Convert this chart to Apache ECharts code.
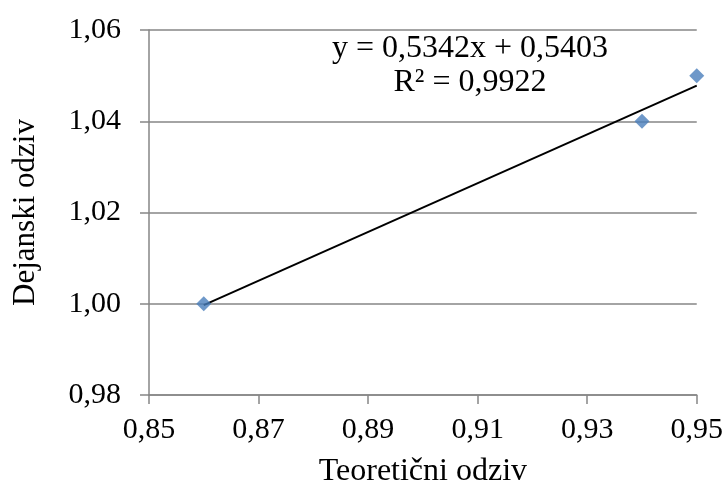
<!DOCTYPE html>
<html><head><meta charset="utf-8">
<script src="https://cdn.jsdelivr.net/npm/echarts@6/dist/echarts.min.js"></script>
<style>html,body{margin:0;padding:0;background:#fff}#c{width:726px;height:493px}</style>
</head><body><div id="c"></div>
<script>
const pointsX = [0.86, 0.94, 0.95];
const pointsY = [1.00, 1.04, 1.05];
const trendX = [0.86, 0.95];
const trendY = [0.9997, 1.0478];
const equationText = 'y = 0,5342x + 0,5403';
const r2Text = 'R² = 0,9922';
const xTitle = 'Teoretični odziv';
const yTitle = 'Dejanski odziv';

const fmt = (v, d) => v.toFixed(d).replace('.', ',');
const font = '"Liberation Serif", "Times New Roman", serif';
const chart = echarts.init(document.getElementById('c'));
chart.setOption({
  animation: false,
  backgroundColor: '#fff',
  grid: { left: 149, right: 29, top: 30, bottom: 93 },
  xAxis: {
    type: 'value', min: 0.85, max: 0.95, interval: 0.02,
    name: xTitle, nameLocation: 'middle', nameGap: 61,
    nameTextStyle: { fontFamily: font, fontSize: 32, color: '#000' },
    axisLine: { show: true, lineStyle: { color: '#868686', width: 1.5 } },
    axisTick: { show: true, length: 9, lineStyle: { color: '#868686', width: 1.5 } },
    axisLabel: { fontFamily: font, fontSize: 30, color: '#000', margin: 20, formatter: v => fmt(v, 2) },
    splitLine: { show: false }
  },
  yAxis: {
    type: 'value', min: 0.98, max: 1.06, interval: 0.02,
    name: yTitle, nameLocation: 'middle', nameGap: 108,
    nameTextStyle: { fontFamily: font, fontSize: 31, color: '#000' },
    axisLine: { show: true, lineStyle: { color: '#868686', width: 1.5 } },
    axisTick: { show: true, length: 9, lineStyle: { color: '#868686', width: 1.5 } },
    axisLabel: { fontFamily: font, fontSize: 30, color: '#000', margin: 28, formatter: v => fmt(v, 2) },
    splitLine: { show: true, lineStyle: { color: '#868686', width: 1.5 } }
  },
  series: [
    {
      type: 'line', data: trendX.map((x, i) => [x, trendY[i]]),
      showSymbol: false, symbol: 'none',
      lineStyle: { color: '#000', width: 2 }, z: 2
    },
    {
      type: 'scatter', data: pointsX.map((x, i) => [x, pointsY[i]]),
      symbol: 'diamond', symbolSize: [15, 15],
      itemStyle: { color: '#4a7ebb' }, z: 3
    }
  ],
  graphic: [
    { type: 'text', x: 470, y: 49, style: { text: equationText, font: '32px ' + font, fill: '#000', align: 'center', verticalAlign: 'middle' } },
    { type: 'text', x: 470, y: 83, style: { text: r2Text, font: '32px ' + font, fill: '#000', align: 'center', verticalAlign: 'middle' } }
  ]
});
</script></body></html>
